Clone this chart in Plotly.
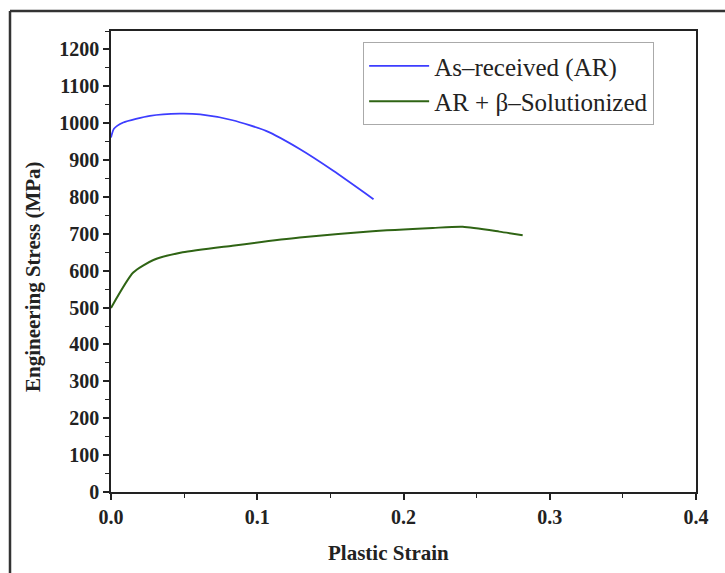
import plotly.graph_objects as go

# As-received (AR)
ar_strain = [0.0, 0.002, 0.0084, 0.0266, 0.047, 0.061, 0.0832, 0.106, 0.129, 0.152, 0.1795]
ar_stress = [961, 985, 1002, 1020, 1026, 1024, 1008, 979, 930, 871, 794]

# AR + beta-Solutionized
bs_strain = [0.0, 0.0152, 0.029, 0.049, 0.083, 0.129, 0.1745, 0.22, 0.2405, 0.2655, 0.2815]
bs_stress = [499, 595, 629, 650, 668, 690, 706, 716, 719, 706, 696]

series_names = ["As\u2013received (AR)", "AR + \u03b2\u2013Solutionized"]
x_ticks = [0.0, 0.1, 0.2, 0.3, 0.4]
y_ticks = list(range(0, 1201, 100))

FONT = "Liberation Serif"

fig = go.Figure()
fig.add_trace(go.Scatter(x=ar_strain, y=ar_stress, mode="lines", name=series_names[0],
                         line=dict(color="#3d3dff", width=1.8, shape="spline", smoothing=0.6)))
fig.add_trace(go.Scatter(x=bs_strain, y=bs_stress, mode="lines", name=series_names[1],
                         line=dict(color="#2f6414", width=2, shape="spline", smoothing=0.6)))

axis_common = dict(showline=True, linecolor="#222", linewidth=1.5, mirror=True,
                   showgrid=False, zeroline=False, ticks="outside", ticklen=6,
                   tickwidth=1.5, tickcolor="#222",
                   tickfont=dict(family=FONT, size=20, color="#222", weight="bold"))

fig.update_xaxes(range=[0, 0.4], tickvals=x_ticks, ticktext=[f"{v:.1f}" for v in x_ticks],
                 minor=dict(dtick=0.05, ticks="outside", ticklen=4, tickwidth=1.2, tickcolor="#222"),
                 **axis_common)
fig.update_yaxes(range=[0, 1250], tickvals=y_ticks, ticktext=[str(v) for v in y_ticks],
                 minor=dict(dtick=50, ticks="outside", ticklen=4, tickwidth=1.2, tickcolor="#222"),
                 **axis_common)

fig.update_layout(
    width=725, height=573,
    margin=dict(l=111, r=29, t=31, b=81),
    plot_bgcolor="white", paper_bgcolor="white",
    font=dict(family=FONT, color="#222"),
    legend=dict(x=0.431, y=0.976, xanchor="left", yanchor="top",
                bordercolor="#aaaaaa", borderwidth=1, bgcolor="white",
                font=dict(family=FONT, size=25, color="#222"), itemwidth=60,
                tracegroupgap=0),
    annotations=[
        dict(text="<b>Plastic Strain</b>", xref="paper", yref="paper",
             x=(388 - 111) / 585, y=(492 - 553) / 461, xanchor="center", yanchor="middle",
             showarrow=False, font=dict(family=FONT, size=21, color="#222")),
        dict(text="<b>Engineering Stress (MPa)</b>", xref="paper", yref="paper",
             x=(33 - 111) / 585, y=(492 - 277) / 461, xanchor="center", yanchor="middle",
             textangle=-90, showarrow=False, font=dict(family=FONT, size=21, color="#222")),
    ],
    shapes=[
        dict(type="line", xref="paper", yref="paper", x0=(10 - 111) / 585, x1=(10 - 111) / 585,
             y0=(492 - 11) / 461, y1=(492 - 573) / 461, line=dict(color="#333", width=2.5)),
        dict(type="line", xref="paper", yref="paper", x0=(10 - 111) / 585, x1=(725 - 111) / 585,
             y0=(492 - 11) / 461, y1=(492 - 11) / 461, line=dict(color="#333", width=2.5)),
    ],
    showlegend=True,
)

fig.write_html("out.html")
